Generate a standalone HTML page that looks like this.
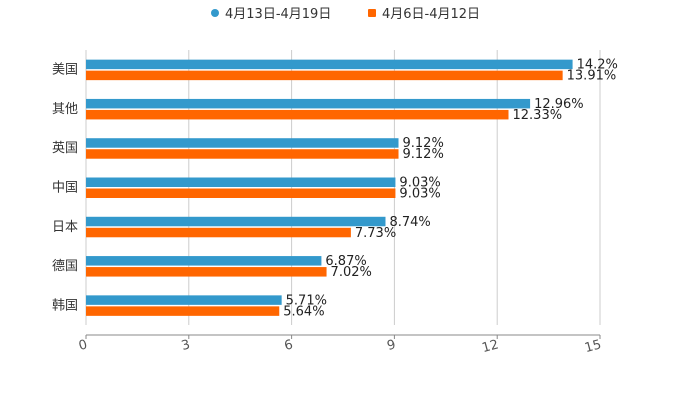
<!DOCTYPE html>
<html><head><meta charset="utf-8"><style>
body{margin:0;background:#fff;}
svg{font-family:"DejaVu Sans","Noto Sans CJK SC",sans-serif;}
</style></head><body>
<svg id="c" width="700" height="400">
<g id="legend">
<circle cx="215" cy="13" r="4" fill="#3399cc"/>
<text x="225" y="18" font-size="13" fill="#333">4月13日-4月19日</text>
<rect x="368" y="9" width="8" height="8" rx="1" fill="#ff6600"/>
<text x="382" y="18" font-size="13" fill="#333">4月6日-4月12日</text>
</g>
<g id="grid"></g><g id="bars"></g><g id="axes"></g>
</svg>
<script>
const categories=["美国","其他","英国","中国","日本","德国","韩国"];
const seriesA=[14.2,12.96,9.12,9.03,8.74,6.87,5.71];
const seriesB=[13.91,12.33,9.12,9.03,7.73,7.02,5.64];
const ticks=[0,3,6,9,12,15];
const NS="http://www.w3.org/2000/svg";
const x0=86,x1=600,xmax=15,plotTop=50,plotBottom=325;
const xs=v=>x0+(x1-x0)*v/xmax;
const band=(plotBottom-plotTop)/categories.length;
const yc=i=>plotTop+band*(i+0.5);
function mk(t,a,p){const e=document.createElementNS(NS,t);for(const k in a)e.setAttribute(k,a[k]);p.appendChild(e);return e;}
const g=document.getElementById('grid'),b=document.getElementById('bars'),ax=document.getElementById('axes');
ticks.forEach(t=>{
const l=mk('line',{x1:xs(t),x2:xs(t),y1:plotTop,y2:plotBottom,stroke:'#ccc','stroke-width':1},g);


const tk=mk('line',{x1:xs(t),x2:xs(t),y1:335,y2:339,stroke:'#888'},ax);


const tx=mk('text',{x:xs(t)+2,y:348,'font-size':13,fill:'#555','text-anchor':'end',transform:`rotate(-15 ${xs(t)+2} 348)`},ax);
tx.textContent=t;


});
const al=mk('line',{x1:x0,x2:x1,y1:335,y2:335,stroke:'#888'},ax);


categories.forEach((c,i)=>{
const y=yc(i);
const lab=mk('text',{x:78,y:y+4,'font-size':13,fill:'#333','text-anchor':'end'},ax);
lab.textContent=c;


[[seriesA,'#3399cc',y-10],[seriesB,'#ff6600',y+1]].forEach(([s,col,by],k)=>{
const r=mk('rect',{x:x0,y:by,width:xs(s[i])-x0,height:9.5,fill:col},b);


const t=mk('text',{x:xs(s[i])+4,y:by+9,'font-size':13,fill:'#222'},b);
t.textContent=s[i]+'%';


});
});
</script>
</body></html>
